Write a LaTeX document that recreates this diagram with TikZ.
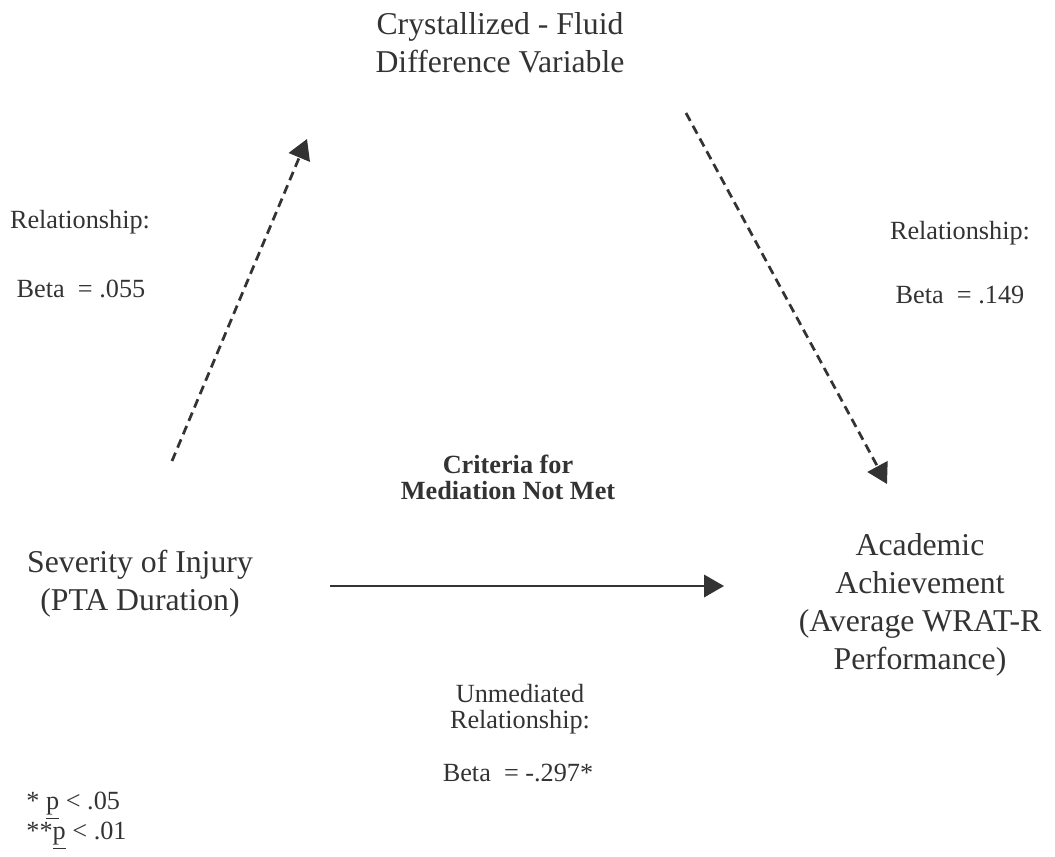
\documentclass[tikz,border=0pt]{standalone}
\usepackage{fontspec}
\setmainfont{Liberation Serif}
\usetikzlibrary{arrows.meta,positioning}
\colorlet{ink}{black!80}
\tikzset{
  patharrow/.style={-{Triangle[length=8pt,width=9pt]}, draw=ink, line width=1.1pt, dash pattern=on 3.6pt off 2.2pt},
  directarrow/.style={-{Triangle[length=8pt,width=9pt]}, draw=ink, line width=0.8pt},
  varnode/.style={align=center, text=ink, font=\fontsize{12.7}{15.2}\selectfont, inner sep=0pt},
  statnode/.style={align=center, text=ink, font=\fontsize{10.5}{10.5}\selectfont, inner sep=0pt},
  critnode/.style={statnode, font=\fontsize{10.5}{10.5}\selectfont\bfseries}
}
\begin{document}
\begin{tikzpicture}[x=0.4pt,y=-0.4pt]
  \useasboundingbox (0,0) rectangle (1055,856);

  \node[varnode] (diff) at (500,43) {Crystallized - Fluid\\Difference Variable};
  \node[varnode] (injury) at (140,584) {Severity of Injury\\(PTA Duration)};
  \node[varnode] (wrat) at (920,605) {Academic\\Achievement\\(Average WRAT-R\\Performance)};

  \node[statnode] (relA) at (80,222) {Relationship:};
  \node[statnode] (betaA) at (81,289) {Beta\ \ = .055};
  \node[statnode] (relB) at (960,233) {Relationship:};
  \node[statnode] (betaB) at (960,295) {Beta\ \ = .149};
  \node[critnode] (crit) at (508,477) {Criteria for\\Mediation Not Met};
  \node[statnode] (unmed) at (520,709) {Unmediated\\Relationship:};
  \node[statnode] (betaC) at (518,773) {Beta\ \ = -.297*};
  \node[statnode, anchor=west, align=left] (sig) at (26,821) {* \underline{p} < .05\\**\underline{p} < .01};

  \coordinate (aStart) at (172,461);
  \coordinate (aEnd) at (307,139);
  \coordinate (bStart) at (686,113);
  \coordinate (bEnd) at (887,484);
  \coordinate (cStart) at (330,586);
  \coordinate (cEnd) at (724,586);

  \draw[patharrow] (aStart) -- (aEnd);
  \draw[patharrow] (bStart) -- (bEnd);
  \draw[directarrow] (cStart) -- (cEnd);
\end{tikzpicture}
\end{document}
